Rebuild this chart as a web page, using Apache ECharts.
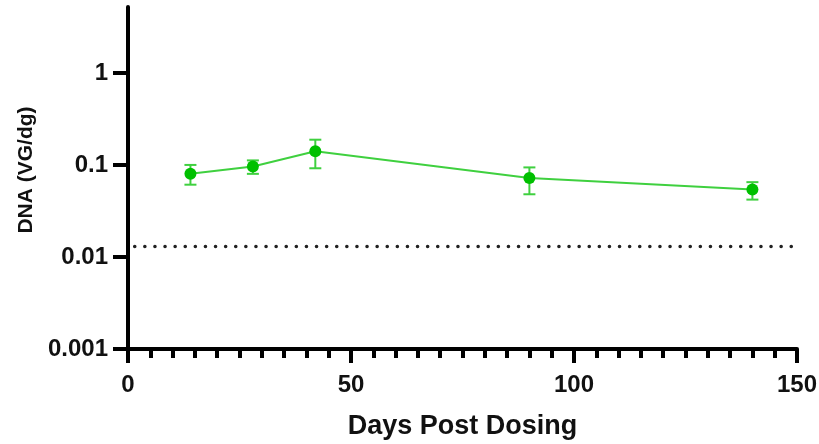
<!DOCTYPE html>
<html>
<head>
<meta charset="utf-8">
<script src="https://cdn.jsdelivr.net/npm/echarts@6/dist/echarts.min.js"></script>
<style>
html,body{margin:0;padding:0;background:#fff;}
#chart{width:819px;height:444px;}
</style>
</head>
<body>
<div id="chart"></div>
<script>
const days = [14, 28, 42, 90, 140];
const meanDNA = [0.080, 0.096, 0.141, 0.072, 0.054];
const upperDNA = [0.100, 0.112, 0.188, 0.094, 0.065];
const lowerDNA = [0.061, 0.080, 0.092, 0.048, 0.042];
const lloqLine = [[1.5, 0.013], [150, 0.013]];
const yTickValues = [0.001, 0.01, 0.1, 1];
const xTitle = 'Days Post Dosing';
const yTitle = 'DNA (VG/dg)';

const FONT = '"Liberation Sans", Arial, sans-serif';
const GREEN = '#00c000';
const LINE_GREEN = '#3fd03f';

const chart = echarts.init(document.getElementById('chart'), null, {renderer: 'canvas'});

const meanData = days.map((d, i) => [d, meanDNA[i]]);
const errData = days.map((d, i) => [d, lowerDNA[i], upperDNA[i]]);

chart.setOption({
  animation: false,
  backgroundColor: '#ffffff',
  grid: {left: 128, right: 22, top: 7, bottom: 95, containLabel: false, outerBoundsMode: 'none'},
  xAxis: {
    type: 'value',
    min: 0, max: 150, interval: 50,
    name: xTitle,
    nameLocation: 'middle',
    nameGap: 64,
    nameTextStyle: {fontFamily: FONT, fontWeight: 'bold', fontSize: 27, color: '#111'},
    axisLine: {show: true, lineStyle: {color: '#000', width: 4}},
    axisTick: {show: true, inside: false, length: 14, lineStyle: {color: '#000', width: 4}},
    minorTick: {show: true, splitNumber: 10, length: 9, lineStyle: {color: '#000', width: 4}},
    axisLabel: {fontFamily: FONT, fontWeight: 'bold', fontSize: 24, color: '#111', margin: 24},
    splitLine: {show: false},
    minorSplitLine: {show: false}
  },
  yAxis: {
    type: 'log',
    logBase: 10,
    min: 0.001, max: 5.2,
    name: yTitle,
    nameLocation: 'middle',
    nameGap: 91,
    nameRotate: 90,
    nameTextStyle: {fontFamily: FONT, fontWeight: 'bold', fontSize: 21, color: '#111', padding: [0, 0, 0, 16]},
    axisLine: {show: true, lineStyle: {color: '#000', width: 4}},
    axisTick: {show: true, length: 15, lineStyle: {color: '#000', width: 4}, customValues: yTickValues},
    axisLabel: {fontFamily: FONT, fontWeight: 'bold', fontSize: 24, color: '#111', margin: 20,
      customValues: yTickValues,
      formatter: function (v) { return String(+v.toPrecision(3)); }},
    splitLine: {show: false}
  },
  series: [
    {
      type: 'line',
      data: lloqLine,
      symbol: 'none',
      silent: true,
      lineStyle: {color: '#222', width: 3.5, type: [0.1, 10], cap: 'round'},
      z: 1
    },
    {
      type: 'custom',
      data: errData,
      z: 2,
      renderItem: function (params, api) {
        const x = api.value(0);
        const lo = api.coord([x, api.value(1)]);
        const hi = api.coord([x, api.value(2)]);
        const hw = 6;
        const style = {stroke: LINE_GREEN, lineWidth: 2};
        return {
          type: 'group',
          children: [
            {type: 'line', shape: {x1: lo[0], y1: lo[1], x2: hi[0], y2: hi[1]}, style: style},
            {type: 'line', shape: {x1: lo[0] - hw, y1: lo[1], x2: lo[0] + hw, y2: lo[1]}, style: style},
            {type: 'line', shape: {x1: hi[0] - hw, y1: hi[1], x2: hi[0] + hw, y2: hi[1]}, style: style}
          ]
        };
      }
    },
    {
      type: 'line',
      data: meanData,
      symbol: 'circle',
      symbolSize: 12,
      z: 3,
      lineStyle: {color: LINE_GREEN, width: 2},
      itemStyle: {color: GREEN, borderWidth: 0}
    }
  ]
});
</script>
</body>
</html>
